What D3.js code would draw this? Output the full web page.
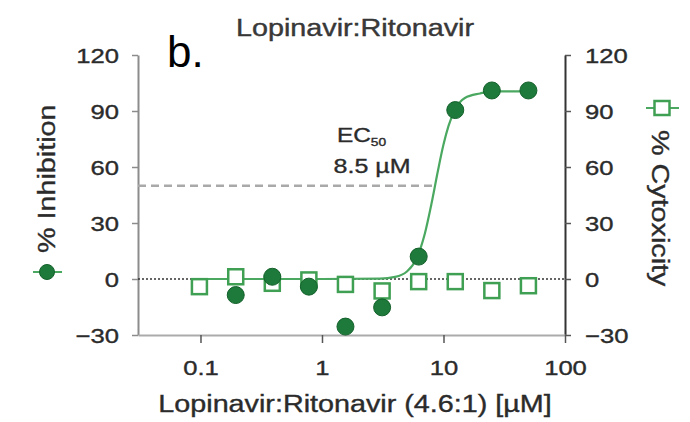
<!DOCTYPE html>
<html>
<head>
<meta charset="utf-8">
<script src="https://cdn.jsdelivr.net/npm/d3@7"></script>
<style>
  html, body { margin: 0; padding: 0; background: #fff; }
  svg { display: block; font-family: "Liberation Sans", Arial, sans-serif; }
  text.heavy { stroke: #2b2b2b; stroke-width: 0.35px; }
</style>
</head>
<body>
<div id="chart"></div>
<script>
// data

const cytoConc = [0.098, 0.195, 0.39, 0.78, 1.56, 3.125, 6.25, 12.5, 25, 50];
const cytotoxicity = [-4.1, 1.2, -2.3, -0.5, -2.9, -6.4, -1.4, -1.4, -6.2, -3.6];

const inhibConc = [0.195, 0.39, 0.78, 1.56, 3.125, 6.25, 12.5, 25, 50];
const inhibition = [-8.6, 1.2, -4.1, -25.5, -15.2, 12, 90.5, 101, 101];

// fitted curve
const fitConc = [0.098, 1, 3, 4, 5, 6, 7, 8, 9, 10, 11, 12.5, 15, 20, 25, 50];
const fitValue = [0, 0, 0.2, 1.1, 4, 11, 24, 41, 58, 72, 82, 91, 97, 99.4, 100.5, 100.5];

const ec50 = 8.5;
const xTicks = [0.1, 1, 10, 100];
const yTicks = [-30, 0, 30, 60, 90, 120];

// config

const width = 690;
const height = 422;
const SX = 1.25; // horizontal stretch of the lettering
const darkGreen = "#1d7a3a";
const lightGreen = "#3f9f53";
const textColor = "#2b2b2b";

const svg = d3.select("#chart")
  .append("svg")
  .attr("width", width)
  .attr("height", height);

// scales

const x = d3.scaleLog()
  .domain([0.0306, 100])
  .range([138, 565]);

const y = d3.scaleLinear()
  .domain([-30, 120])
  .range([335, 55]);

// helper for stretched text
function label(str, tx, ty, size, opts = {}) {
  const rot = opts.rotate || 0;
  return svg.append("text")
    .attr("class", "heavy")
    .attr("transform", `translate(${tx},${ty}) rotate(${rot}) scale(${opts.sx || SX},1)`)
    .attr("text-anchor", opts.anchor || "middle")
    .attr("font-size", size)
    .attr("fill", opts.fill || textColor)
    .text(str);
}

// axes

const fmt = d3.format("d");

svg.append("g")
  .attr("transform", `translate(${x.range()[0]},0)`)
  .call(d3.axisLeft(y).tickValues(yTicks).tickFormat(fmt).tickSize(6).tickSizeOuter(0))
  .call(g => g.select(".domain").attr("stroke", "#8c8c8c").attr("stroke-width", 2))
  .call(g => g.selectAll(".tick line").attr("stroke", "#8c8c8c").attr("stroke-width", 1.5))
  .call(g => g.selectAll(".tick text")
    .attr("class", "heavy")
    .attr("x", null).attr("dy", "0.35em")
    .attr("transform", `translate(-19,0) scale(${SX},1)`)
    .attr("font-size", 20.5).attr("font-family", null).attr("fill", textColor));

svg.append("g")
  .attr("transform", `translate(${x.range()[1]},0)`)
  .call(d3.axisRight(y).tickValues(yTicks).tickFormat(fmt).tickSize(6).tickSizeOuter(0))
  .call(g => g.select(".domain").attr("stroke", "#333").attr("stroke-width", 2))
  .call(g => g.selectAll(".tick line").attr("stroke", "#555").attr("stroke-width", 1.5))
  .call(g => g.selectAll(".tick text")
    .attr("class", "heavy")
    .attr("x", null).attr("dy", "0.35em")
    .attr("transform", `translate(20,0) scale(${SX},1)`)
    .attr("font-size", 20.5).attr("font-family", null).attr("fill", textColor));

svg.append("g")
  .attr("transform", `translate(0,${y.range()[0]})`)
  .call(d3.axisBottom(x).tickValues(xTicks).tickFormat(d3.format("~g")).tickSize(8).tickSizeOuter(0))
  .call(g => g.select(".domain").attr("stroke", "#ababab").attr("stroke-width", 2))
  .call(g => g.selectAll(".tick line").attr("stroke", "#555").attr("stroke-width", 1.5))
  .call(g => g.selectAll(".tick text")
    .attr("class", "heavy")
    .attr("y", null).attr("dy", null)
    .attr("transform", `translate(0,40) scale(${SX},1)`)
    .attr("font-size", 20.5).attr("font-family", null).attr("fill", textColor));

// zero line and EC50 guide

svg.append("line")
  .attr("x1", x.range()[0]).attr("x2", x.range()[1])
  .attr("y1", y(0)).attr("y2", y(0))
  .attr("stroke", "#333")
  .attr("stroke-width", 1.6)
  .attr("stroke-dasharray", "2,2");

svg.append("line")
  .attr("x1", x.range()[0]).attr("x2", x(ec50))
  .attr("y1", y(50)).attr("y2", y(50))
  .attr("stroke", "#a9a9a9")
  .attr("stroke-width", 2.5)
  .attr("stroke-dasharray", "8,5");

// fitted curve

const fit = fitConc.map((c, i) => ({ c: c, v: fitValue[i] }));

const line = d3.line()
  .x(d => x(d.c))
  .y(d => y(d.v))
  .curve(d3.curveMonotoneX);

svg.append("path")
  .attr("d", line(fit))
  .attr("fill", "none")
  .attr("stroke", "#4aa860")
  .attr("stroke-width", 2.2);

// cytotoxicity squares

const sq = 15;
svg.selectAll("rect.cyto")
  .data(cytoConc.map((c, i) => ({ c: c, v: cytotoxicity[i] })))
  .join("rect")
  .attr("class", "cyto")
  .attr("x", d => x(d.c) - sq / 2)
  .attr("y", d => y(d.v) - sq / 2)
  .attr("width", sq)
  .attr("height", sq)
  .attr("fill", "#fff")
  .attr("stroke", lightGreen)
  .attr("stroke-width", 2.5);

// inhibition circles

svg.selectAll("circle.inhib")
  .data(inhibConc.map((c, i) => ({ c: c, v: inhibition[i] })))
  .join("circle")
  .attr("class", "inhib")
  .attr("cx", d => x(d.c))
  .attr("cy", d => y(d.v))
  .attr("r", 8.5)
  .attr("fill", darkGreen)
  .attr("stroke", "#14602b")
  .attr("stroke-width", 1);

// texts

label("Lopinavir:Ritonavir", 355, 36, 23, { fill: "#3a3a3a" });
label("Lopinavir:Ritonavir (4.6:1) [\u00b5M]", 355, 412, 23);

svg.append("text")
  .attr("x", 167).attr("y", 67)
  .attr("font-size", 44)
  .attr("fill", "#000")
  .text("b.");

const ecLabel = label("EC", 337, 142, 19.5, { anchor: "start" });
ecLabel.append("tspan")
  .attr("font-size", 11)
  .attr("dy", 4)
  .text("50");
label(`${ec50} \u00b5M`, 372, 173, 20);

// y axis titles with legend symbols

label("% Inhibition", 55, 253, 23, { rotate: -90, anchor: "start" });
svg.append("line")
  .attr("x1", 33).attr("x2", 62)
  .attr("y1", 272).attr("y2", 272)
  .attr("stroke", "#4aa860").attr("stroke-width", 2);
svg.append("circle")
  .attr("cx", 47).attr("cy", 272).attr("r", 7.5)
  .attr("fill", darkGreen).attr("stroke", "#14602b");

label("% Cytoxicity", 652, 130, 23, { rotate: 90, anchor: "start" });
svg.append("line")
  .attr("x1", 646).attr("x2", 679)
  .attr("y1", 108).attr("y2", 108)
  .attr("stroke", "#4aa860").attr("stroke-width", 2);
svg.append("rect")
  .attr("x", 662 - 7.5).attr("y", 108 - 7)
  .attr("width", 15).attr("height", 14)
  .attr("fill", "#fff")
  .attr("stroke", lightGreen).attr("stroke-width", 2.5);
</script>
</body>
</html>
